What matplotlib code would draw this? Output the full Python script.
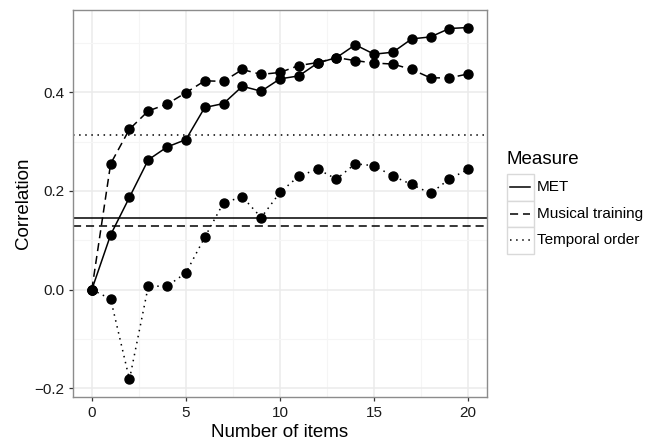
import matplotlib
matplotlib.use("Agg")
import matplotlib.pyplot as plt
from matplotlib.lines import Line2D
from matplotlib.patches import Rectangle
from matplotlib.ticker import MultipleLocator

plt.rcParams["font.family"] = ["Liberation Sans", "DejaVu Sans"]

# correlation by number of items
n_items = list(range(21))
met = [0.0, 0.111, 0.187, 0.263, 0.289, 0.304, 0.369, 0.377, 0.412, 0.402, 0.427,
       0.433, 0.459, 0.470, 0.496, 0.477, 0.481, 0.508, 0.512, 0.529, 0.531]
musical = [0.0, 0.255, 0.325, 0.362, 0.376, 0.399, 0.423, 0.422, 0.446, 0.436, 0.440,
           0.454, 0.460, 0.470, 0.464, 0.459, 0.457, 0.446, 0.429, 0.429, 0.437]
temporal = [0.0, -0.019, -0.182, 0.007, 0.007, 0.034, 0.106, 0.176, 0.188, 0.146, 0.197,
            0.230, 0.244, 0.224, 0.255, 0.251, 0.230, 0.213, 0.195, 0.224, 0.244]

# reference level for each measure (horizontal lines)
measures = ["MET", "Musical training", "Temporal order"]
ref_levels = [0.146, 0.128, 0.313]
series = [met, musical, temporal]

DASH = {"MET": (None, None), "Musical training": (5.3, 3.2), "Temporal order": (1.0, 3.0)}
LW = 1.1

W, H = 645, 441
fig = plt.figure(figsize=(W / 100, H / 100), dpi=100)
ax = fig.add_axes([73 / W, 1 - 397 / H, (487 - 73) / W, (397 - 10) / H])


def style(line, name):
    if DASH[name][0] is None:
        line.set_linestyle("-")
    else:
        line.set_dashes(DASH[name])


for name, vals, lvl in zip(measures, series, ref_levels):
    ln = ax.axhline(lvl, color="black", lw=LW, zorder=2)
    style(ln, name)
    (ln,) = ax.plot(n_items, vals, color="black", lw=LW, zorder=3)
    style(ln, name)
    ax.plot(n_items, vals, "o", color="black", ms=6.5, zorder=4)

ax.set_xlim(-1, 21)
ax.set_ylim(-0.2175, 0.5665)
ax.xaxis.set_major_locator(MultipleLocator(5))
ax.xaxis.set_minor_locator(MultipleLocator(2.5))
ax.yaxis.set_major_locator(MultipleLocator(0.2))
ax.yaxis.set_minor_locator(MultipleLocator(0.1))
ax.set_yticklabels([f"{v:.1f}".replace("-", "\u2212") for v in ax.get_yticks()])

ax.grid(which="major", color="#EBEBEB", lw=1.1, zorder=0)
ax.grid(which="minor", color="#F5F5F5", lw=0.8, zorder=0)
ax.set_axisbelow(True)
for sp in ax.spines.values():
    sp.set_color("#8C8C8C")
    sp.set_linewidth(1.0)
ax.tick_params(which="major", length=3.2, width=0.9, color="#333333",
               labelsize=11, labelcolor="#1A1A1A", pad=3)
ax.tick_params(which="minor", length=0)

ax.set_xlabel("Number of items", fontsize=13.5, labelpad=3)
ax.set_ylabel("Correlation", fontsize=13.5, labelpad=2)


# legend drawn by hand in pixel coordinates, ggplot style
def fx(px):
    return px / W


def fy(py):
    return 1 - py / H


fig.text(fx(507), fy(160), "Measure", fontsize=13.5, va="center", ha="left")
key_top = 174
key = 26.5
for i, name in enumerate(measures):
    y0 = key_top + i * key
    fig.add_artist(Rectangle((fx(507), fy(y0 + key)), key / W, key / H,
                             transform=fig.transFigure, facecolor="white",
                             edgecolor="#D9D9D9", lw=1.0))
    kl = Line2D([fx(510), fx(530)], [fy(y0 + key / 2)] * 2, color="black",
                lw=LW, transform=fig.transFigure)
    style(kl, name)
    fig.add_artist(kl)
    fig.text(fx(537), fy(y0 + key / 2), name, fontsize=11, va="center", ha="left")

fig.savefig("out.png", dpi=100)
